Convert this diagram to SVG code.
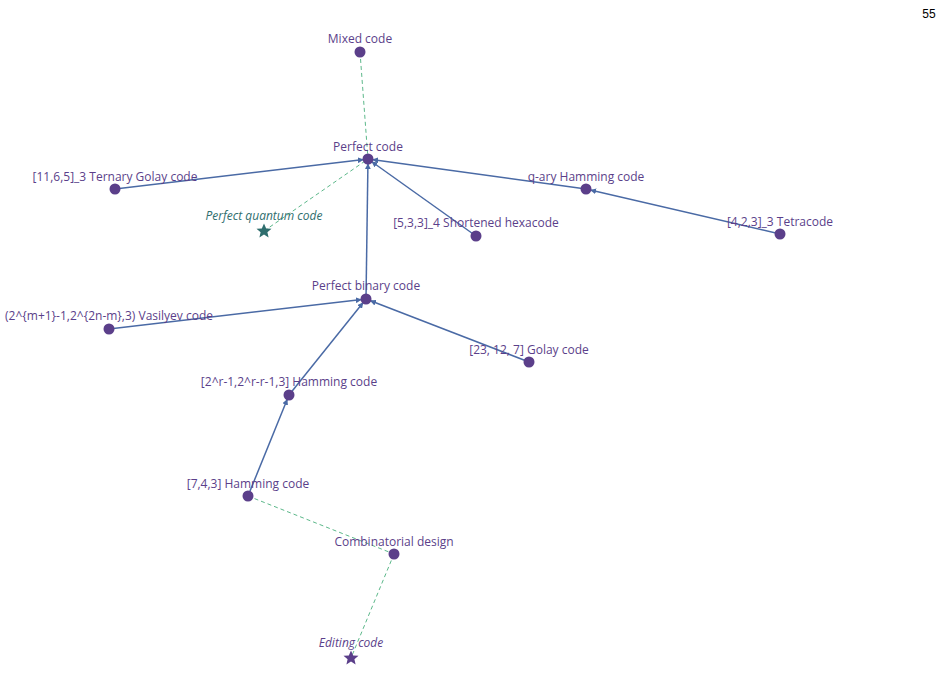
<svg xmlns="http://www.w3.org/2000/svg" width="944" height="679" viewBox="0 0 944 679">
<style>
text{font-family:"Open Sans","Noto Sans",sans-serif;font-size:12px;fill:#5b3f8a;text-anchor:middle}
.it{font-style:italic}
.q{fill:#2f6e6e}
.n{fill:#5b3f8a}
.e{stroke:#4a6aa5;stroke-width:1.5;fill:none;marker-end:url(#a)}
.d{stroke:#5cb88a;stroke-width:1;stroke-dasharray:4,3;fill:none}
</style>
<defs><marker id="a" viewBox="0 0 10 10" refX="17" refY="5" markerWidth="6" markerHeight="6" orient="auto" markerUnits="userSpaceOnUse"><path d="M0,0L10,5L0,10z" fill="#4a6aa5"/></marker></defs>
<rect width="944" height="679" fill="#fff"/>
<text x="929" y="18" style="fill:#000;font-family:'Liberation Sans',sans-serif">55</text>
<g id="edges">
<line class="d" x1="360" y1="52" x2="368" y2="159"/>
<line class="d" x1="264" y1="231" x2="368" y2="159"/>
<line class="d" x1="248" y1="496" x2="394" y2="554"/>
<line class="d" x1="394" y1="554" x2="351" y2="658"/>
<line class="e" x1="115" y1="189" x2="368" y2="159"/>
<line class="e" x1="586" y1="189" x2="368" y2="159"/>
<line class="e" x1="476" y1="236" x2="368" y2="159"/>
<line class="e" x1="366" y1="299" x2="368" y2="159"/>
<line class="e" x1="780" y1="234" x2="586" y2="189"/>
<line class="e" x1="109" y1="329" x2="366" y2="299"/>
<line class="e" x1="529" y1="362" x2="366" y2="299"/>
<line class="e" x1="289" y1="395" x2="366" y2="299"/>
<line class="e" x1="248" y1="496" x2="289" y2="395"/>
</g>
<g id="mixed"><circle class="n" cx="360" cy="52" r="5.5"/><text x="360" y="43">Mixed code</text></g>
<g id="perfect"><circle class="n" cx="368" cy="159" r="5.5"/><text x="368" y="151">Perfect code</text></g>
<g id="ternary"><circle class="n" cx="115" cy="189" r="5.5"/><text x="115" y="181">[11,6,5]_3 Ternary Golay code</text></g>
<g id="quantum"><path class="q" transform="translate(264,231)" d="M0,-7.5L2.2,-2.4L7.5,-2.3L3.4,1.2L4.6,6.5L0,3.6L-4.6,6.5L-3.4,1.2L-7.5,-2.3L-2.2,-2.4z"/><text class="it q" x="264" y="220">Perfect quantum code</text></g>
<g id="hexacode"><circle class="n" cx="476" cy="236" r="5.5"/><text x="476" y="227">[5,3,3]_4 Shortened hexacode</text></g>
<g id="qary"><circle class="n" cx="586" cy="189" r="5.5"/><text x="586" y="181">q-ary Hamming code</text></g>
<g id="tetracode"><circle class="n" cx="780" cy="234" r="5.5"/><text x="780" y="226">[4,2,3]_3 Tetracode</text></g>
<g id="binary"><circle class="n" cx="366" cy="299" r="5.5"/><text x="366" y="290">Perfect binary code</text></g>
<g id="vasilyev"><circle class="n" cx="109" cy="329" r="5.5"/><text x="109" y="320">(2^{m+1}-1,2^{2n-m},3) Vasilyev code</text></g>
<g id="golay"><circle class="n" cx="529" cy="362" r="5.5"/><text x="529" y="354">[23, 12, 7] Golay code</text></g>
<g id="hamr"><circle class="n" cx="289" cy="395" r="5.5"/><text x="289" y="386">[2^r-1,2^r-r-1,3] Hamming code</text></g>
<g id="ham743"><circle class="n" cx="248" cy="496" r="5.5"/><text x="248" y="488">[7,4,3] Hamming code</text></g>
<g id="comb"><circle class="n" cx="394" cy="554" r="5.5"/><text x="394" y="546">Combinatorial design</text></g>
<g id="editing"><path class="n" transform="translate(351,658)" d="M0,-7.5L2.2,-2.4L7.5,-2.3L3.4,1.2L4.6,6.5L0,3.6L-4.6,6.5L-3.4,1.2L-7.5,-2.3L-2.2,-2.4z"/><text class="it" x="351" y="647">Editing code</text></g>
</svg>
